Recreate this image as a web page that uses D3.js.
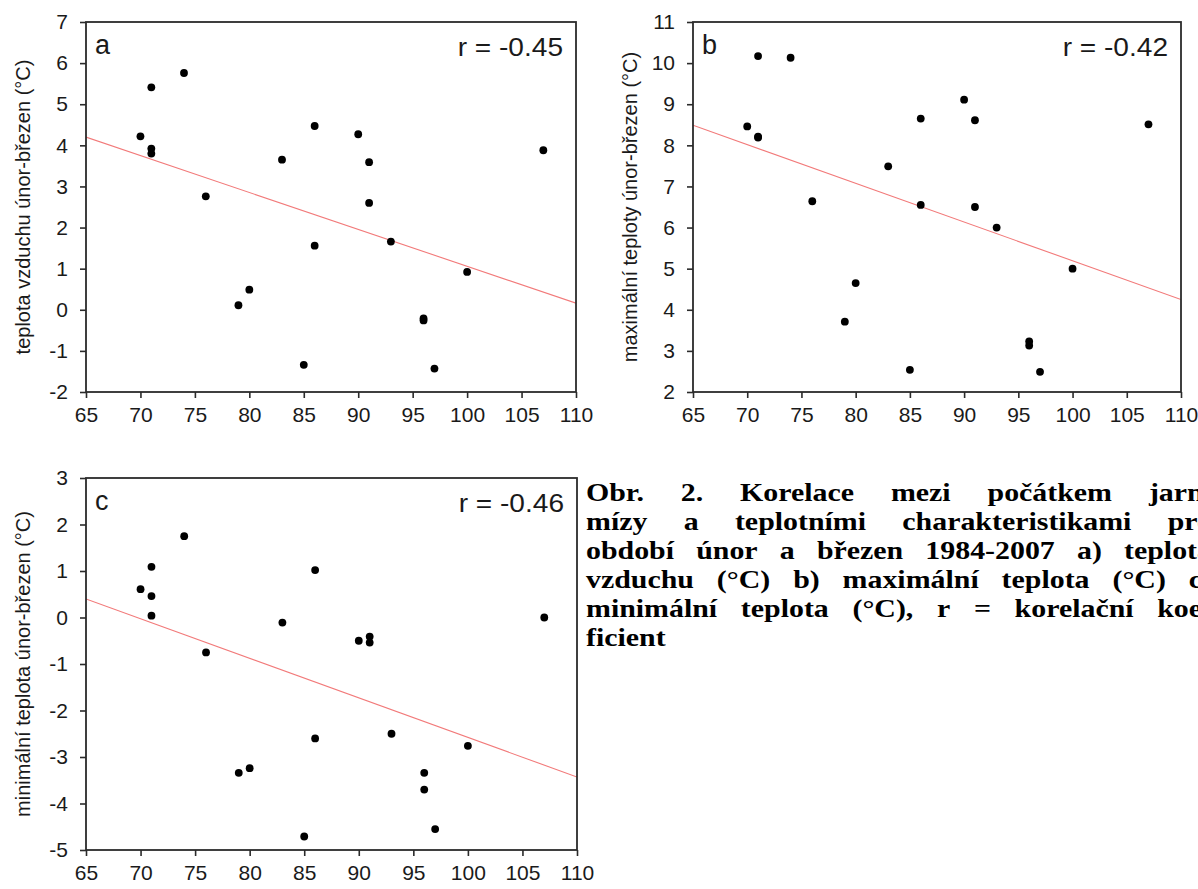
<!DOCTYPE html>
<html>
<head>
<meta charset="utf-8">
<script src="https://cdn.jsdelivr.net/npm/d3@7"></script>
<style>
  body { margin: 0; background: #fff; }
  svg { display: block; }
  .lbl { font-family: "Liberation Sans", Arial, sans-serif; fill: #1a1a1a; }
  .cap { font-family: "Liberation Serif", "Times New Roman", serif; font-weight: bold; fill: #000; }
</style>
</head>
<body>
<div id="chart"></div>
<script>

////////////////////////////////////////////////////////////////////////
// Data

// start of sap flow (day of year), one per season
let days = [70, 71, 71, 71, 74, 76, 79, 80, 83, 85, 86, 86, 90, 91, 91, 93, 96, 96, 97, 100, 107];

// a) mean air temperature Feb-Mar
let airTemp = [4.22, 5.41, 3.92, 3.80, 5.76, 2.76, 0.11, 0.49, 3.65, -1.34, 4.47, 1.56, 4.27, 3.59, 2.60, 1.66, -0.21, -0.26, -1.43, 0.92, 3.88];
// b) maximum temperature Feb-Mar
let maxTemp = [8.46, 10.17, 8.21, 8.19, 10.13, 6.64, 3.71, 4.65, 7.49, 2.54, 8.65, 6.55, 9.11, 8.61, 6.50, 6.00, 3.23, 3.13, 2.49, 5.00, 8.51];
// c) minimum temperature Feb-Mar
let minTemp = [0.61, 1.09, 0.46, 0.04, 1.75, -0.75, -3.34, -3.24, -0.11, -4.71, 1.02, -2.60, -0.50, -0.41, -0.54, -2.50, -3.34, -3.70, -4.55, -2.76, 0.00];

// regression line values at x = 65 and x = 110
let fitX = [65, 110];
let fitA = [4.20, 0.16];
let fitB = [8.49, 4.25];
let fitC = [0.40, -3.43];

let xTicks = [65, 70, 75, 80, 85, 90, 95, 100, 105, 110];
let yTicksA = [-2, -1, 0, 1, 2, 3, 4, 5, 6, 7];
let yTicksB = [2, 3, 4, 5, 6, 7, 8, 9, 10, 11];
let yTicksC = [-5, -4, -3, -2, -1, 0, 1, 2, 3];

let panelLetters = ["a", "b", "c"];
let rLabels = ["r = -0.45", "r = -0.42", "r = -0.46"];
let yTitles = [
  "teplota vzduchu únor-březen (°C)",
  "maximální teploty únor-březen (°C)",
  "minimální teplota únor-březen (°C)"
];

let captionLines = [
  "Obr. 2. Korelace mezi počátkem jarní",
  "mízy a teplotními charakteristikami pro",
  "období únor a březen 1984-2007 a) teplota",
  "vzduchu (°C) b) maximální teplota (°C) c)",
  "minimální teplota (°C), r =  korelační koe-",
  "ficient"
];


////////////////////////////////////////////////////////////////////////
// svg + panel layout

let width = 1198;
let height = 889;

let svg = d3.select("#chart")
  .append("svg")
  .attr("width", width).attr("height", height);

let panels = [
  { box: [86, 22, 576, 392],  values: airTemp, fit: fitA, yTicks: yTicksA },
  { box: [693, 22, 1181, 392], values: maxTemp, fit: fitB, yTicks: yTicksB },
  { box: [86, 478, 577, 850], values: minTemp, fit: fitC, yTicks: yTicksC }
];

let frameColor = "#2b2b2b";

panels.forEach(function(p, i) {
  let [x0, y0, x1, y1] = p.box;

  let xScale = d3.scaleLinear().domain([65, 110]).range([x0, x1]);
  let yScale = d3.scaleLinear()
    .domain(d3.extent(p.yTicks))
    .range([y1, y0]);

  let g = svg.append("g").attr("class", "panel");

  // clip for the regression line
  g.append("clipPath").attr("id", "clip" + i)
    .append("rect")
    .attr("x", x0).attr("y", y0)
    .attr("width", x1 - x0).attr("height", y1 - y0);

  // axes (ticks outside, domain drawn by the frame), plain hyphen minus
  let yAxis = g.append("g")
    .attr("transform", "translate(" + x0 + ",0)")
    .call(d3.axisLeft(yScale).tickValues(p.yTicks).tickFormat(function(d) { return String(d); })
      .tickSize(6).tickPadding(12).tickSizeOuter(0));
  let xAxis = g.append("g")
    .attr("transform", "translate(0," + y1 + ")")
    .call(d3.axisBottom(xScale).tickValues(xTicks).tickFormat(function(d) { return String(d); })
      .tickSize(6).tickPadding(9).tickSizeOuter(0));

  [yAxis, xAxis].forEach(function(ax) {
    ax.select(".domain").remove();
    ax.selectAll("line").attr("stroke", frameColor).attr("stroke-width", 1.6);
    ax.selectAll("text")
      .attr("class", "lbl")
      .attr("font-size", 21)
      .attr("fill", "#1a1a1a");
  });

  // regression line
  g.append("path")
    .attr("clip-path", "url(#clip" + i + ")")
    .attr("d", d3.line()(fitX.map(function(x, k) { return [xScale(x), yScale(p.fit[k])]; })))
    .attr("fill", "none")
    .attr("stroke", "#f27a7a")
    .attr("stroke-width", 1.1);

  // points
  g.selectAll(".dot")
    .data(days.map(function(d, k) { return [d, p.values[k]]; }))
    .enter()
    .append("circle")
    .attr("class", "dot")
    .attr("cx", function(d) { return xScale(d[0]); })
    .attr("cy", function(d) { return yScale(d[1]); })
    .attr("r", 3.9)
    .attr("fill", "#000");

  // frame
  g.append("rect")
    .attr("x", x0).attr("y", y0)
    .attr("width", x1 - x0).attr("height", y1 - y0)
    .attr("fill", "none")
    .attr("stroke", frameColor)
    .attr("stroke-width", 1.8);

  // panel letter and r (r text is a little wider in the source)
  g.append("text")
    .attr("class", "lbl")
    .attr("x", x0 + 9).attr("y", y0 + 32)
    .attr("font-size", 27)
    .text(panelLetters[i]);

  g.append("text")
    .attr("class", "lbl")
    .attr("transform", "translate(" + (x1 - 13) + "," + (y0 + 34) + ") scale(1.08,1)")
    .attr("text-anchor", "end")
    .attr("font-size", 26)
    .text(rLabels[i]);

  // y title
  g.append("text")
    .attr("class", "lbl")
    .attr("transform", "translate(" + (x0 - 56) + "," + ((y0 + y1) / 2) + ") rotate(-90)")
    .attr("text-anchor", "middle")
    .attr("font-size", 20)
    .text(yTitles[i]);
});


////////////////////////////////////////////////////////////////////////
// caption, justified like the source text (runs off the right edge).
// The source type is stretched sideways, so the group is scaled in x.

let capX = 586;
let capRight = 1212;
let capY = 501;
let capStep = 29;
let capStretch = 1.15;

let cap = svg.append("g")
  .attr("class", "cap")
  .attr("font-size", 26)
  .attr("transform", "translate(" + capX + ",0) scale(" + capStretch + ",1)");

captionLines.forEach(function(line, i) {
  let y = capY + i * capStep;
  let words = line.split(/\s+/);
  let nodes = words.map(function(w) {
    return cap.append("text").attr("y", y).text(w);
  });
  let widths = nodes.map(function(n) { return n.node().getComputedTextLength(); });
  let last = i === captionLines.length - 1;
  let full = (capRight - capX) / capStretch;
  let gap = last ? 6 : (full - d3.sum(widths)) / (words.length - 1);
  let cx = 0;
  nodes.forEach(function(n, k) {
    n.attr("x", cx);
    cx += widths[k] + gap;
  });
});

</script>
</body>
</html>
